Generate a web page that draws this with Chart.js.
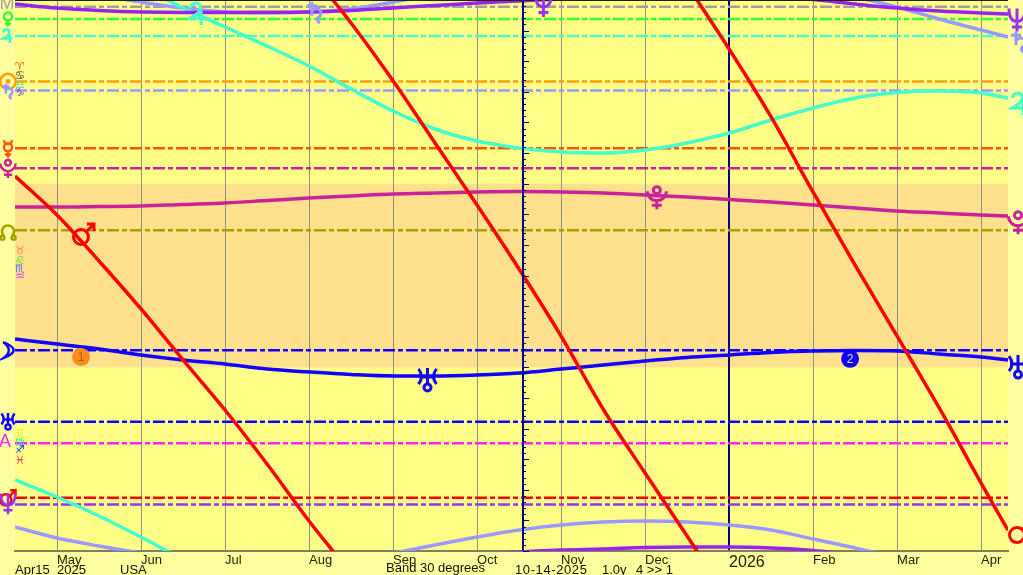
<!DOCTYPE html>
<html><head><meta charset="utf-8">
<style>html,body{margin:0;padding:0;background:#ffffa0;overflow:hidden}canvas{display:block}</style>
<script src="https://cdn.jsdelivr.net/npm/chart.js@4"></script>
</head><body><canvas id="c" width="1023" height="575"></canvas>
<script>
// months since Apr 1 2025 (May = 1 ... Apr 2026 = 12)
const months = [0.5,1,1.5,2,2.5,3,3.5,4,4.5,5,5.5,6,6.5,7,7.5,8,8.5,9,9.5,10,10.5,11,11.5,12,12.32];
const monthTicks = [1,2,3,4,5,6,7,8,9,10,11,12];
const monthLabels = ['May','Jun','Jul','Aug','Sep','Oct','Nov','Dec','2026','Feb','Mar','Apr'];
const currentMonth = 6.548;
// unwrapped values, degrees (the plot wraps every 90)
const mars = [16.25,9.88,2.37,-5.47,-13.8,-21.97,-30.79,-40.1,-48.76,-58.2,-68.36,-78.49,-88.94,-99.89,-111.81,-122.27,-132.56,-143.0,-154.1,-166.4,-178.3,-189.9,-201.6,-213.9,-221.6];
const jupiter = [-33.4,-36.18,-39.28,-42.72,-46.31,-49.41,-52.52,-55.79,-59.54,-63.13,-66.07,-68.03,-69.18,-69.83,-70.0,-69.5,-68.36,-66.73,-64.6,-62.64,-61.0,-60.11,-59.87,-60.19,-61.0];
const saturn = [-41.08,-42.88,-44.19,-45.33,-46.31,-46.96,-47.12,-46.96,-46.47,-45.33,-44.02,-42.72,-41.57,-40.75,-40.27,-40.1,-40.27,-40.75,-41.57,-43.04,-44.51,-46.14,-48.1,-49.9,-51.05];
const neptune = [44.35,43.69,43.29,43.04,42.96,42.96,42.99,43.04,43.29,43.69,44.1,44.51,44.84,45.16,45.33,45.57,45.65,45.65,45.49,45.08,44.35,43.69,43.2,42.88,42.72];
const pluto = [11.19,11.19,11.27,11.35,11.6,11.84,12.25,12.66,12.99,13.31,13.48,13.64,13.72,13.64,13.48,13.15,12.82,12.41,12.01,11.52,11.03,10.54,10.21,9.88,9.72];
const uranus = [-10.37,-11.19,-12.0,-12.98,-13.8,-14.46,-15.27,-15.76,-16.17,-16.41,-16.41,-16.25,-15.92,-15.27,-14.62,-13.96,-13.39,-12.98,-12.57,-12.33,-12.25,-12.33,-12.82,-13.31,-13.8];
const curveColors = ['#ff0000','#1100ff','#cc2299','#9922ee','#44ffcc','#9999ff'];
const wrapOffsets = [-90,0,90,180,270];
// natal positions (dashed lines)
const natalGlyphs = ['M','venus','jupiter','sun','saturn','mercury','pluto','node','moon','uranus','A','mars','neptune'];
const natalValues = [43.9,41.9,39.1,31.7,30.2,20.8,17.5,7.4,-12.2,-23.9,-27.4,-36.3,-37.4];
const natalColors = ['#a0a0a0','#33ff33','#44ffcc','#ff9f0f','#9999ff','#ff5500','#cc2299','#a8a000','#1100ff','#1100ff','#ff22ff','#ff0000','#9933ee'];
// sign markers in the left margin
const signGlyphs = ['\u2648','\u264B','\u264E','\u2651','\u2649','\u264C','\u264F','\u2652','\u264A','\u264D','\u2650','\u2653'];
const signValues = [34.1,32.6,31.1,29.8,4.0,2.4,1.0,-0.3,-25.9,-27.4,-28.5,-30.3];
const signColors = ['#ff5522','#333333','#44ddaa','#7744ee','#ff8844','#33dd33','#4466ee','#ff22ff','#eeee22','#33ddbb','#1144ee','#ff2266'];
// planet names along the curves
const planetGlyphs = ['mars','jupiter','saturn','pluto','uranus','neptune'];
const planetMonths = [1.321,2.68,4.07,8.14,5.41,6.79];
const planetValues = [6.78,42.7,42.9,12.8,-16.9,44.2];
const planetColors = ['#ff0000','#44ffcc','#9999ff','#cc2299','#1100ff','#9933ee'];
// right-hand end labels
const endGlyphs = ['neptune','saturn','jupiter','pluto','uranus','mars'];
const endValues = [41.8,38.1,28.0,8.7,-14.8,-41.9];
const endColors = ['#9933ee','#9999ff','#44ffcc','#cc2299','#1100ff','#ff0000'];
// phase markers
const phaseMonths = [1.286,10.44];
const phaseValues = [-13.3,-13.6];
const phaseColors = ['#ff8c1a','#1100ee'];
const phaseTexts = ['1','2'];
const bandHalf = 15;
const footerTexts = ['Apr15','2025','USA','Band 30 degrees','10-14-2025','1.0y','4 >> 1'];
const footerX = [15,57,120,386,515,602,636];

const SYM = '"DejaVu Sans"', TXT = '"Liberation Sans"';
const glyphDraw = {
  sun(c){c.arc(0,0,9,0,7);c.moveTo(1.5,0);c.arc(0,0,1.5,0,7);},
  moon(c){c.moveTo(-6,-10);c.quadraticCurveTo(20,0,-6,10);c.quadraticCurveTo(8,0,-6,-10);},
  mercury(c){c.arc(0,-1,5,0,7);c.moveTo(5,-10);c.arc(0,-10,5,0,Math.PI);c.moveTo(0,4);c.lineTo(0,12);c.moveTo(-4,8);c.lineTo(4,8);},
  venus(c){c.arc(0,-4,6.5,0,7);c.moveTo(0,2.5);c.lineTo(0,12);c.moveTo(-5,7.5);c.lineTo(5,7.5);},
  mars(c){c.arc(-3,3,7.5,0,7);c.moveTo(2.3,-2.3);c.lineTo(10,-10);c.moveTo(3,-10);c.lineTo(10,-10);c.lineTo(10,-3);},
  jupiter(c){c.moveTo(-8,-6);c.quadraticCurveTo(-6,-12,-1,-11);c.quadraticCurveTo(5,-9,0,-1);c.lineTo(-8,4);c.lineTo(7,4);c.moveTo(3,-3);c.lineTo(3,11);},
  saturn(c){c.moveTo(-3,-11);c.lineTo(-3,3);c.moveTo(-8,-7);c.lineTo(2,-7);c.moveTo(-3,-2);c.quadraticCurveTo(1,-6,5,-3);c.quadraticCurveTo(8,1,3,5);c.quadraticCurveTo(1,8,5,10);},
  uranus(c){c.moveTo(-8,-2);c.lineTo(8,-2);c.moveTo(0,-11);c.lineTo(0,5);c.moveTo(-9,-10);c.quadraticCurveTo(-3,-2,-9,5);c.moveTo(9,-10);c.quadraticCurveTo(3,-2,9,5);c.moveTo(3.5,8.5);c.arc(0,8.5,3.5,0,7);},
  neptune(c){c.moveTo(0,-11);c.lineTo(0,12);c.moveTo(-8,-11);c.quadraticCurveTo(-8,2,0,2);c.quadraticCurveTo(8,2,8,-11);c.moveTo(-5,7.5);c.lineTo(5,7.5);},
  pluto(c){c.moveTo(9.5,-6);c.arc(0,-6,9.5,0,Math.PI);c.moveTo(3.5,-7);c.arc(0,-7,3.5,0,7);c.moveTo(0,3.5);c.lineTo(0,12);c.moveTo(-5,8);c.lineTo(5,8);},
  node(c){c.arc(0,-1,7.5,0.75*Math.PI,2.25*Math.PI);c.moveTo(-4.5,7);c.arc(-7,7,2.5,0,7);c.moveTo(9.5,7);c.arc(7,7,2.5,0,7);}
};
function drawGlyph(ctx,name,px,py,s,color,lw){
  ctx.save();ctx.translate(px,py);ctx.scale(s,s);
  ctx.strokeStyle=color;ctx.lineWidth=lw/s;ctx.lineCap='butt';
  ctx.beginPath();glyphDraw[name](ctx);ctx.stroke();ctx.restore();
}

const datasets = [];
const curves = [mars,uranus,pluto,neptune,jupiter,saturn];
curves.forEach((vals,i)=>{
  wrapOffsets.forEach(o=>{
    datasets.push({data:months.map((m,k)=>({x:m,y:vals[k]+o})),borderColor:curveColors[i],borderWidth:3.5,
      pointRadius:0,cubicInterpolationMode:'monotone',clip:0,order:i+1});
  });
});
natalValues.forEach((v,i)=>{
  datasets.push({data:[{x:months[0],y:v},{x:months[months.length-1],y:v}],borderColor:natalColors[i],borderWidth:2.5,
    borderDash:[12,3,5,3],pointRadius:0,clip:0,order:20});
});
datasets.push({data:phaseMonths.map((m,i)=>({x:m,y:phaseValues[i]})),showLine:false,pointRadius:9,pointBorderWidth:0,
  pointBackgroundColor:phaseColors,clip:false,order:0});

const natalDy = [-3,0,0,0,1,0,0,2,0,-1,-1,0,-1];
const natalScale = [1,0.62,0.62,0.85,0.72,0.8,0.8,0.8,0.8,0.72,1,0.75,0.9];
const endDx = [9,11,12,10,10,12];

const deco = {
  id:'deco',
  beforeDraw(ch){
    const {ctx,chartArea:a,scales:{y}} = ch;
    ctx.save();
    ctx.fillStyle='#ffffa0';ctx.fillRect(0,0,ch.width,ch.height);
    ctx.fillStyle='#ffff88';ctx.fillRect(a.left,a.top,a.right-a.left,a.bottom-a.top);
    const t=y.getPixelForValue(bandHalf),b=y.getPixelForValue(-bandHalf);
    ctx.fillStyle='#ffe08c';ctx.fillRect(a.left,t,a.right-a.left,b-t);
    ctx.restore();
  },
  afterDatasetsDraw(ch){
    const {ctx,chartArea:a,scales:{x,y}} = ch;
    ctx.save();
    const cx=Math.round(x.getPixelForValue(currentMonth));
    ctx.fillStyle='#000080';
    ctx.fillRect(cx-1,a.top,2,a.bottom-a.top);
    for(let d=-45;d<=45;d++){
      const py=Math.round(y.getPixelForValue(d));
      ctx.fillRect(cx,py,d%5===0?6:3,1);
    }
    ctx.fillStyle='#222200';ctx.fillRect(a.left,0,a.right-a.left,1);
    ctx.textBaseline='middle';
    const text=(s,px,py,font,col,al)=>{ctx.font=font;ctx.fillStyle=col;ctx.textAlign=al||'center';ctx.fillText(s,px,py);};
    natalGlyphs.forEach((g,i)=>{
      const py=y.getPixelForValue(natalValues[i])+natalDy[i];
      if(glyphDraw[g]) drawGlyph(ctx,g,a.left-7,py,natalScale[i],natalColors[i],2.5);
      else text(g,g==='A'?5:7,py,`18px ${TXT}`,natalColors[i]);
    });
    signGlyphs.forEach((g,i)=>text(g+'\uFE0E',a.left+5,y.getPixelForValue(signValues[i]),`11px ${SYM}`,signColors[i]));
    planetGlyphs.forEach((g,i)=>drawGlyph(ctx,g,x.getPixelForValue(planetMonths[i]),y.getPixelForValue(planetValues[i]),1,planetColors[i],3));
    endGlyphs.forEach((g,i)=>drawGlyph(ctx,g,a.right+endDx[i],y.getPixelForValue(endValues[i]),1,endColors[i],3));
    phaseTexts.forEach((s,i)=>text(s,x.getPixelForValue(phaseMonths[i]),y.getPixelForValue(phaseValues[i])+1,`12px ${TXT}`,i===0?'#996622':'#ddddff'));
    ctx.textBaseline='alphabetic';
    footerTexts.forEach((s,i)=>{
      if('letterSpacing' in ctx) ctx.letterSpacing = i===4?'0.6px':'0px';
      text(s,footerX[i],i===3?572:574,`13px ${TXT}`,'#111100','left');
    });
    ctx.restore();
  }
};

new Chart(document.getElementById('c'),{
  type:'line',
  data:{datasets},
  plugins:[deco],
  options:{
    responsive:false,animation:false,devicePixelRatio:1,
    layout:{autoPadding:false,padding:{left:15,right:15,top:0,bottom:0}},
    plugins:{legend:{display:false},tooltip:{enabled:false},title:{display:false}},
    scales:{
      x:{type:'linear',min:months[0],max:months[months.length-1],
        afterBuildTicks(s){s.ticks=monthTicks.map(v=>({value:v}));},
        afterFit(s){s.height=24;},
        grid:{drawTicks:false,color:c=>c.tick&&c.tick.value===9?'#000080':'#909080',lineWidth:c=>c.tick&&c.tick.value===9?2:1},
        border:{display:true,color:'#808060',width:2},
        ticks:{autoSkip:false,maxRotation:0,align:'start',padding:2,color:'#222200',
          font:c=>(c.tick&&c.tick.value===9)?{family:'Liberation Sans',size:16}:{family:'Liberation Sans',size:13},
          callback:v=>monthLabels[v-1]}},
      y:{type:'linear',min:-45,max:45,display:false}
    }
  }
});
</script></body></html>
